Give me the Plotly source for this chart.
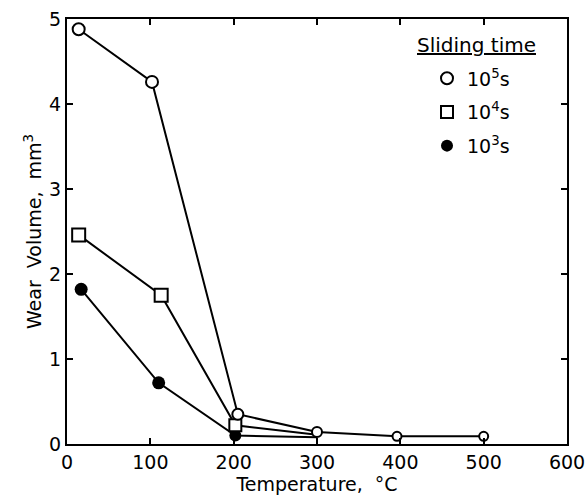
import plotly.graph_objects as go

temp_1e5 = [14, 102, 205, 300, 396, 500]
wear_1e5 = [4.88, 4.26, 0.35, 0.14, 0.09, 0.09]

temp_1e4 = [14, 113, 202, 300]
wear_1e4 = [2.46, 1.75, 0.22, 0.11]

temp_1e3 = [17, 110, 202, 300]
wear_1e3 = [1.82, 0.72, 0.10, 0.08]

series_names = ["10<sup>5</sup>s", "10<sup>4</sup>s", "10<sup>3</sup>s"]
legend_title = "<u>Sliding time</u>"
x_ticks = [0, 100, 200, 300, 400, 500, 600]
y_ticks = [0, 1, 2, 3, 4, 5]

FONT = "DejaVu Sans"

fig = go.Figure()
# connecting lines (drawn first, underneath markers)
for xs, ys in [(temp_1e3, wear_1e3), (temp_1e4, wear_1e4), (temp_1e5, wear_1e5)]:
    fig.add_trace(go.Scatter(x=xs, y=ys, mode="lines", showlegend=False,
                             line=dict(color="black", width=2), hoverinfo="skip"))

# markers (legend entries)
fig.add_trace(go.Scatter(
    x=temp_1e3, y=wear_1e3, mode="markers", name=series_names[2],
    legendrank=3, legendgroup="c",
    marker=dict(symbol="circle", size=[13, 13, 12, 0], color="black", opacity=1,
                line=dict(width=0)),
))
fig.add_trace(go.Scatter(
    x=temp_1e4, y=wear_1e4, mode="markers", name=series_names[1],
    legendrank=2, legendgroup="b",
    marker=dict(symbol="square", size=[13, 13, 12, 0], color="white", opacity=1,
                line=dict(width=2, color="black")),
))
fig.add_trace(go.Scatter(
    x=temp_1e5, y=wear_1e5, mode="markers", name=series_names[0],
    legendrank=1, legendgroup="a",
    marker=dict(symbol="circle", size=[12, 12, 11, 10, 9, 9], color="white", opacity=1,
                line=dict(width=2, color="black")),
))

fig.add_annotation(
    text=legend_title, xref="paper", yref="paper",
    x=0.818, y=0.938, xanchor="center", yanchor="middle", showarrow=False,
    font=dict(size=20, family=FONT, color="black"),
)

fig.update_layout(
    width=585, height=501,
    margin=dict(l=67, r=18, t=19, b=57),
    paper_bgcolor="white", plot_bgcolor="white",
    font=dict(family=FONT, color="black", size=19),
    showlegend=True,
    legend=dict(
        x=0.72, y=0.905, xanchor="left", yanchor="top",
        bgcolor="rgba(0,0,0,0)",
        font=dict(size=19),
        itemsizing="constant",
        tracegroupgap=6,
        itemwidth=30,
    ),
    xaxis=dict(
        range=[0, 600], tickvals=x_ticks, ticks="inside", ticklen=6, tickwidth=2,
        tickcolor="black", showline=True, linecolor="black", linewidth=2,
        mirror="allticks", showgrid=False, zeroline=False, automargin=False,
        ticklabeloverflow="allow",
        title=dict(text="Temperature,  °C", standoff=4, font=dict(size=19)),
        tickfont=dict(size=19),
    ),
    yaxis=dict(
        range=[0, 5], tickvals=y_ticks, ticks="inside", ticklen=6, tickwidth=2,
        tickcolor="black", showline=True, linecolor="black", linewidth=2,
        mirror="allticks", showgrid=False, zeroline=False, automargin=False,
        ticklabeloverflow="allow",
        title=dict(text="Wear  Volume,  mm<sup>3</sup>", standoff=2, font=dict(size=19)),
        tickfont=dict(size=19),
    ),
)

fig.write_html(
    "out.html",
    config={"displayModeBar": False},
    post_script="document.body.style.margin='0';document.body.style.overflow='hidden';",
)
